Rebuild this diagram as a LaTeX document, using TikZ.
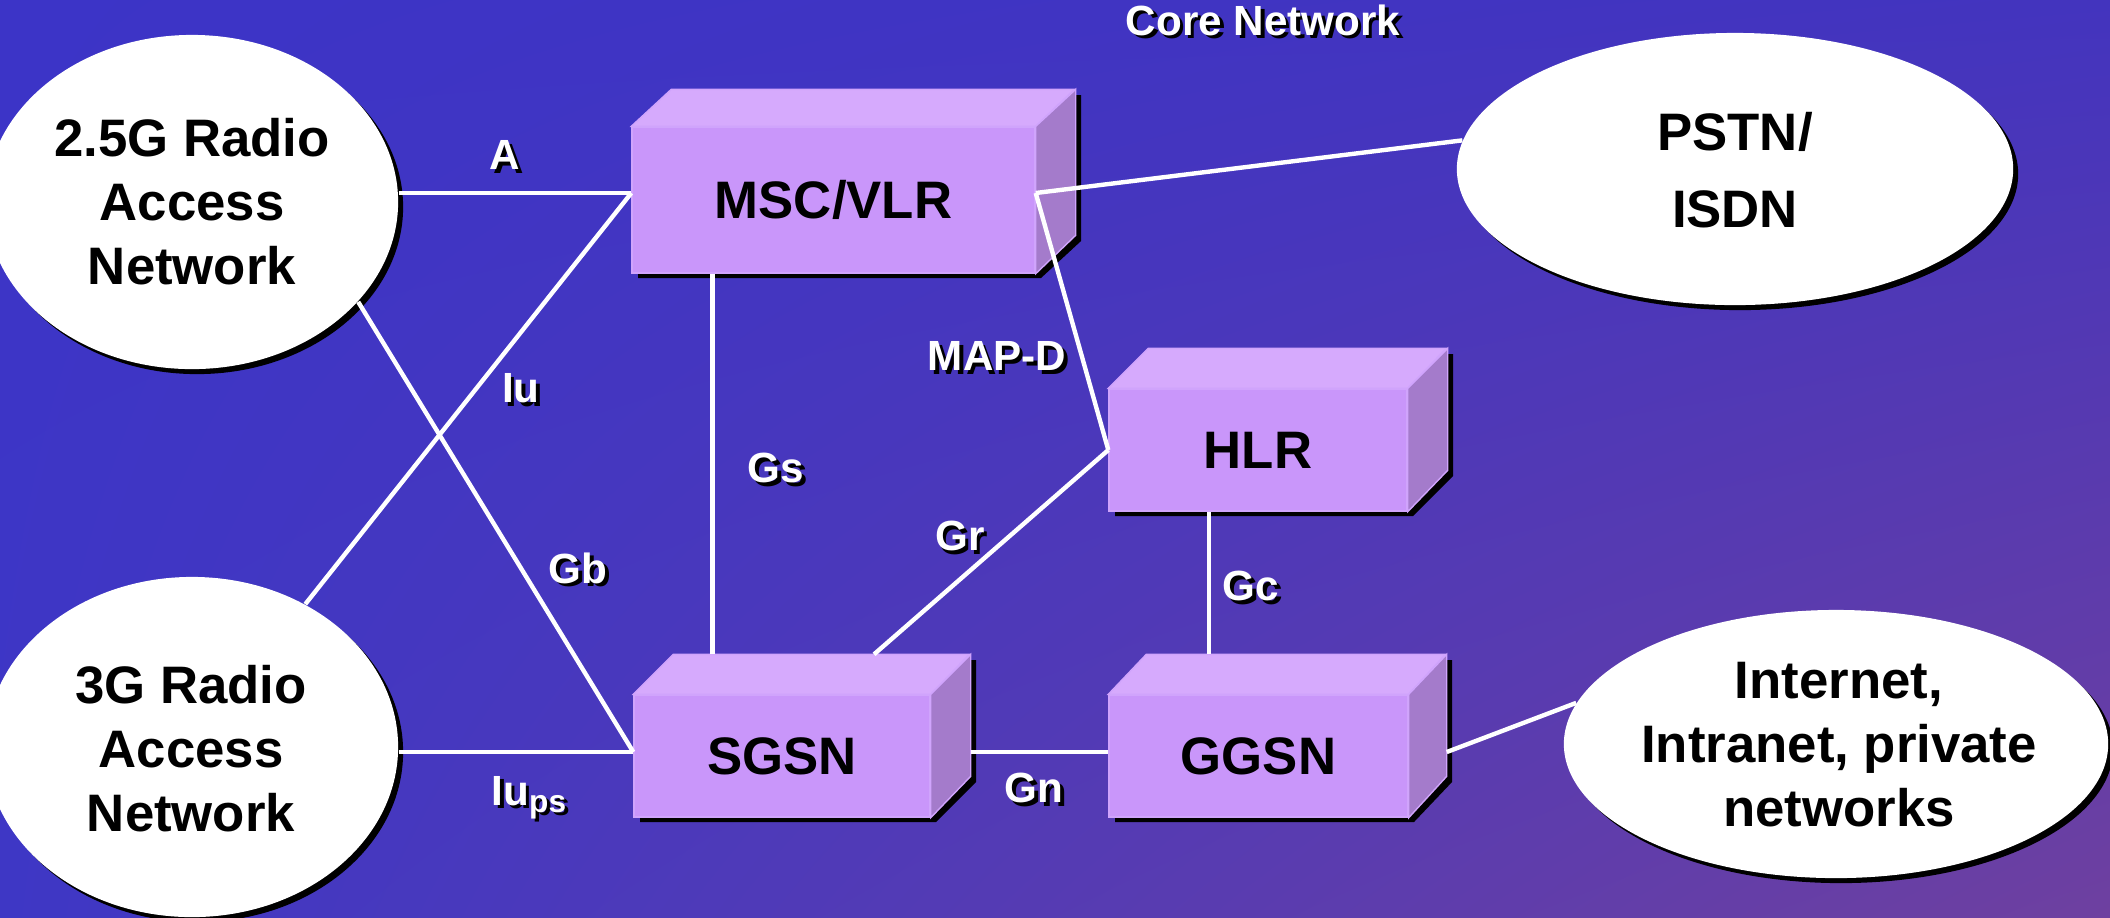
\documentclass[tikz,border=0pt]{standalone}
\usepackage{fontspec}
\setmainfont{Liberation Sans}
\usetikzlibrary{shapes.geometric,shadows,shadings}

\definecolor{bgUL}{HTML}{3C34C7}
\definecolor{bgUR}{HTML}{4334BE}
\definecolor{bgLL}{HTML}{3E37C5}
\definecolor{bgLR}{HTML}{6E40A0}
\definecolor{boxfront}{HTML}{C996FA}
\definecolor{boxtop}{HTML}{D6AAFD}
\definecolor{boxside}{HTML}{A47BCB}
\definecolor{boxedge}{HTML}{D0A4FC}

% white text with a hard black shadow behind it
\newcommand\shadowtext[1]{\makebox[0pt][l]{\hspace{0.035cm}\raisebox{-0.035cm}{\color{black}#1}}#1}

\tikzset{
  x=0.01cm, y=-0.01cm,
  netcloud/.style={ellipse, fill=white, inner sep=0pt,
    drop shadow={shadow xshift=0.05cm, shadow yshift=-0.05cm, opacity=1, fill=black}},
  cloudtext/.style={align=center, inner sep=0pt, text=black,
    font=\fontsize{15pt}{18.2pt}\selectfont\bfseries},
  boxface/.style={rectangle, fill=boxfront, draw=boxedge, line width=0.4pt, inner sep=0pt,
    font=\fontsize{15pt}{18pt}\selectfont\bfseries},
  boxtopface/.style={fill=boxtop, draw=boxedge, line width=0.4pt},
  boxsideface/.style={fill=boxside, draw=boxedge, line width=0.4pt},
  link/.style={draw=white, line width=1.25pt},
  iflabel/.style={text=white, inner sep=0pt, font=\fontsize{12pt}{14pt}\selectfont\bfseries},
}

% 3-D network element: #1 name, #2/#3 centre of front face, #4/#5 width/height,
% #6/#7 depth offset, #8 label
\newcommand\cubebox[8]{%
  \fill[black, shift={(6,5)}]
    (#2-#4/2,#3+#5/2) -- (#2-#4/2,#3-#5/2) -- (#2-#4/2+#6,#3-#5/2+#7)
    -- (#2+#4/2+#6,#3-#5/2+#7) -- (#2+#4/2+#6,#3+#5/2+#7) -- (#2+#4/2,#3+#5/2) -- cycle;
  \node[boxface, minimum width=#4*0.01cm, minimum height=#5*0.01cm] (#1) at (#2,#3) {#8};
  \filldraw[boxtopface] (#1.north west) -- ++(#6,#7) -- ++(#4,0) -- (#1.north east) -- cycle;
  \filldraw[boxsideface] (#1.north east) -- ++(#6,#7) -- ++(0,#5) -- (#1.south east) -- cycle;
}

\begin{document}
\begin{tikzpicture}
\useasboundingbox (0,0) rectangle (2110,917);
\clip (0,0) rectangle (2110,917);
\shade[upper left=bgUL, upper right=bgUR, lower left=bgLL, lower right=bgLR]
  (0,0) rectangle (2110,917);

% access and external networks
\node[netcloud, minimum width=4.12cm, minimum height=3.34cm] (ran25) at (192,202) {};
\node[cloudtext] (ran25-t) at (192,202) {2.5G Radio\\Access\\Network};
\node[netcloud, minimum width=4.12cm, minimum height=3.40cm] (ran3) at (192,747) {};
\node[cloudtext] (ran3-t) at (191,749) {3G Radio\\Access\\Network};
\node[netcloud, minimum width=5.56cm, minimum height=2.72cm] (pstn) at (1735,169) {};
\node[cloudtext, font=\fontsize{15pt}{21.9pt}\selectfont\bfseries] (pstn-t) at (1735,170) {PSTN/\\ISDN};
\node[netcloud, minimum width=5.44cm, minimum height=2.68cm] (inet) at (1836,744) {};
\node[cloudtext] (inet-t) at (1839,745) {Internet,\\Intranet, private\\networks};

% core network elements
\cubebox{msc}{833.5}{200}{403}{146}{40}{-37}{MSC/VLR}
\cubebox{hlr}{1258}{450}{298}{122}{40}{-40}{HLR}
\cubebox{sgsn}{782}{756}{296}{122}{40}{-40}{SGSN}
\cubebox{ggsn}{1258.5}{756}{299}{122}{38}{-40}{GGSN}

% attachment points
\coordinate (msc-l) at ([yshift=0.07cm]msc.west);
\coordinate (msc-r) at ([yshift=0.07cm]msc.east);
\coordinate (msc-gs) at ([xshift=0.81cm]msc.south west);
\coordinate (sgsn-l) at ([yshift=0.04cm]sgsn.west);
\coordinate (sgsn-r) at ([shift={(0.4cm,0.04cm)}]sgsn.east);
\coordinate (sgsn-top) at ([yshift=0.4cm]sgsn.north);
\coordinate (hlr-gc) at ([xshift=-0.49cm]hlr.south);
\coordinate (ggsn-top) at ([yshift=0.4cm]ggsn.north);
\coordinate (ggsn-r) at ([shift={(0.38cm,0.04cm)}]ggsn.east);

% interfaces
\draw[link] (ran25.east |- msc-l) -- (msc-l);
\draw[link] (ran3) -- (msc-l);
\draw[link] (ran25.-31) -- (sgsn-l);
\draw[link] (ran3.east |- sgsn-l) -- (sgsn-l);
\draw[link] (msc-gs) -- (msc-gs |- sgsn-top);
\draw[link] (msc-r) -- (pstn.174);
\draw[link] (msc-r) -- (hlr.west);
\draw[link] (hlr.west) -- ([xshift=0.92cm]sgsn-top);
\draw[link] (hlr-gc) -- (hlr-gc |- ggsn-top);
\draw[link] (sgsn-r) -- (sgsn-r -| ggsn.west);
\draw[link] (ggsn-r) -- (inet.171);

% labels
\node[iflabel] (title) at (1263,22) {\shadowtext{Core Network}};
\node[iflabel] (l-a) at (505,157) {\shadowtext{A}};
\node[iflabel] (l-iu) at (521,390) {\shadowtext{Iu}};
\node[iflabel] (l-gb) at (578,570) {\shadowtext{Gb}};
\node[iflabel] (l-gs) at (776,470) {\shadowtext{Gs}};
\node[iflabel] (l-mapd) at (997,358) {\shadowtext{MAP-D}};
\node[iflabel] (l-gr) at (960,538) {\shadowtext{Gr}};
\node[iflabel] (l-gc) at (1251,588) {\shadowtext{Gc}};
\node[iflabel] (l-gn) at (1034,790) {\shadowtext{Gn}};
\node[iflabel, anchor=base west] (l-iups) at (491,805)
  {\shadowtext{Iu\raisebox{-0.07cm}{\fontsize{9pt}{9pt}\selectfont ps}}};
\end{tikzpicture}
\end{document}
